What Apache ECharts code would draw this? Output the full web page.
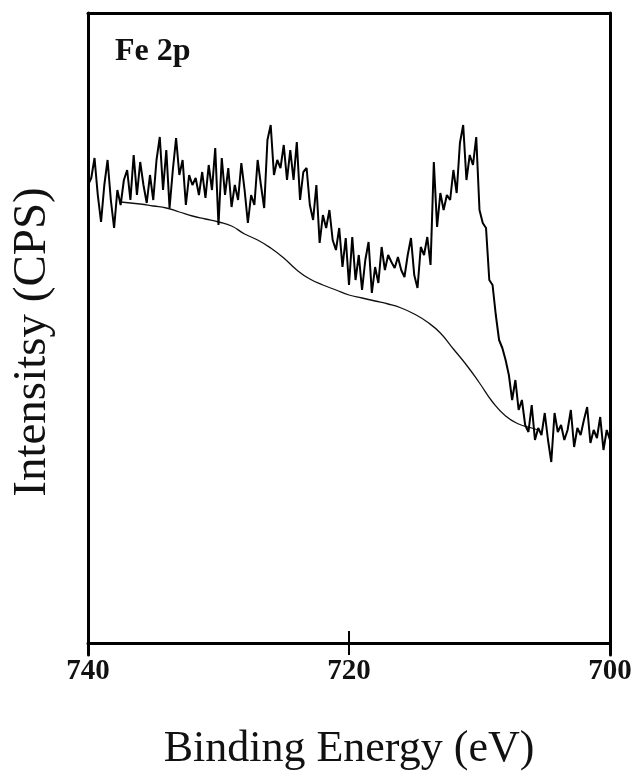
<!DOCTYPE html>
<html>
<head>
<meta charset="utf-8">
<script src="https://cdn.jsdelivr.net/npm/echarts@6/dist/echarts.min.js"></script>
<style>
html,body{margin:0;padding:0;background:#fff;}
#chart{width:643px;height:776px;}
</style>
</head>
<body>
<div id="chart"></div>
<script>
// Binding energy grid of the spectrum (eV), sampled every 0.25 eV from 740 down to 700
const energyStart = 740;
const energyStep = -0.25;
// Measured intensity (arbitrary CPS units)
const intensity = [
458,465,485,448,421,458,483,443,415,453,
438,463,473,443,488,448,481,458,440,468,
443,483,506,453,493,435,473,505,468,483,
438,468,458,465,448,471,445,478,453,495,
418,485,448,475,436,458,443,480,453,420,
448,438,483,458,435,503,518,468,483,475,
498,463,493,463,501,443,471,475,438,423,
458,400,428,415,433,403,393,415,376,405,
358,406,363,388,353,383,401,350,376,360,
396,373,388,381,375,386,373,366,388,405,
368,355,396,388,406,378,481,416,450,433,
448,443,473,450,500,518,463,488,478,506,
433,420,415,363,358,328,303,295,283,268,
243,263,233,243,218,211,238,203,215,208,
230,203,181,230,211,218,203,213,233,196,
215,208,223,236,200,213,205,226,193,213,
203
];
// Shirley-type background
const bgEnergy = [737.5,736,735,734,733,732,731,730,729,728,727,726,725,724,723,722,721,720,719,718,717,716,715,714,713,712,711,710,709,708,707,706,705.5];
const bgIntensity = [441,439,437,435,431,427,424,421,417,409,403,395,385,373,364,358,353,348,345,342,339,335,329,321,310,294,278,260,241,227,219,215,213];
const xTicks = [740, 720, 700];

const spectrum = intensity.map((v, i) => [energyStart + i * energyStep, v]);
const background = bgEnergy.map((e, i) => [e, bgIntensity[i]]);

const chart = echarts.init(document.getElementById('chart'), null, {renderer: 'canvas'});
const serif = '"Liberation Serif", "Times New Roman", serif';
const frameLine = {show: true, onZero: false, lineStyle: {color: '#000', width: 3}};
chart.setOption({
  animation: false,
  backgroundColor: '#fff',
  title: {
    text: 'Fe 2p', left: 110, top: 31,
    textStyle: {fontFamily: serif, fontWeight: 'bold', fontSize: 32, color: '#111'}
  },
  grid: {
    left: 88, right: 33, top: 13, bottom: 121, show: false,
    outerBoundsMode: 'none', containLabel: false
  },
  xAxis: [
    {
      type: 'value', min: 700, max: 740, interval: 20, inverse: true,
      splitLine: {show: false},
      position: 'bottom',
      name: 'Binding Energy (eV)', nameLocation: 'middle', nameGap: 72,
      nameTextStyle: {fontFamily: serif, fontSize: 44, color: '#111'},
      axisLine: {show: true, onZero: true, lineStyle: {color: '#000', width: 3}},
      axisTick: {show: false},
      axisLabel: {
        show: true, margin: 2, fontFamily: serif, fontWeight: 'bold', fontSize: 29, color: '#111',
        formatter: v => xTicks.includes(v) ? String(v) : ''
      }
    },
    {
      type: 'value', min: 700, max: 740, interval: 20, inverse: true,
      position: 'top', splitLine: {show: false},
      axisLine: frameLine, axisTick: {show: false}, axisLabel: {show: false}
    }
  ],
  yAxis: [
    {
      type: 'value', min: -12, max: 630,
      name: 'Intensitsy (CPS)', nameLocation: 'middle', nameGap: 32,
      nameTextStyle: {fontFamily: serif, fontSize: 47, color: '#111', padding: [0, 16, 0, 0]},
      axisLine: frameLine,
      axisTick: {show: false}, axisLabel: {show: false}, splitLine: {show: false}
    },
    {
      type: 'value', min: -12, max: 630, position: 'right',
      axisLine: frameLine,
      axisTick: {show: false}, axisLabel: {show: false}, splitLine: {show: false}
    }
  ],
  series: [
    {
      type: 'line', data: spectrum, showSymbol: false,
      lineStyle: {color: '#000', width: 2}, z: 3
    },
    {
      type: 'line', data: background, showSymbol: false, smooth: true,
      lineStyle: {color: '#111', width: 1.3}, z: 2
    },
    {
      type: 'custom', clip: false, silent: true, z: 5,
      data: xTicks.map(v => [v, 0]),
      encode: {x: 0, y: 1},
      renderItem: (params, api) => {
        const p = api.coord([api.value(0), api.value(1)]);
        return {
          type: 'line',
          shape: {x1: p[0], y1: p[1] - 12, x2: p[0], y2: p[1] + 12},
          style: {stroke: '#000', lineWidth: 2}
        };
      }
    }
  ]
});
</script>
</body>
</html>
